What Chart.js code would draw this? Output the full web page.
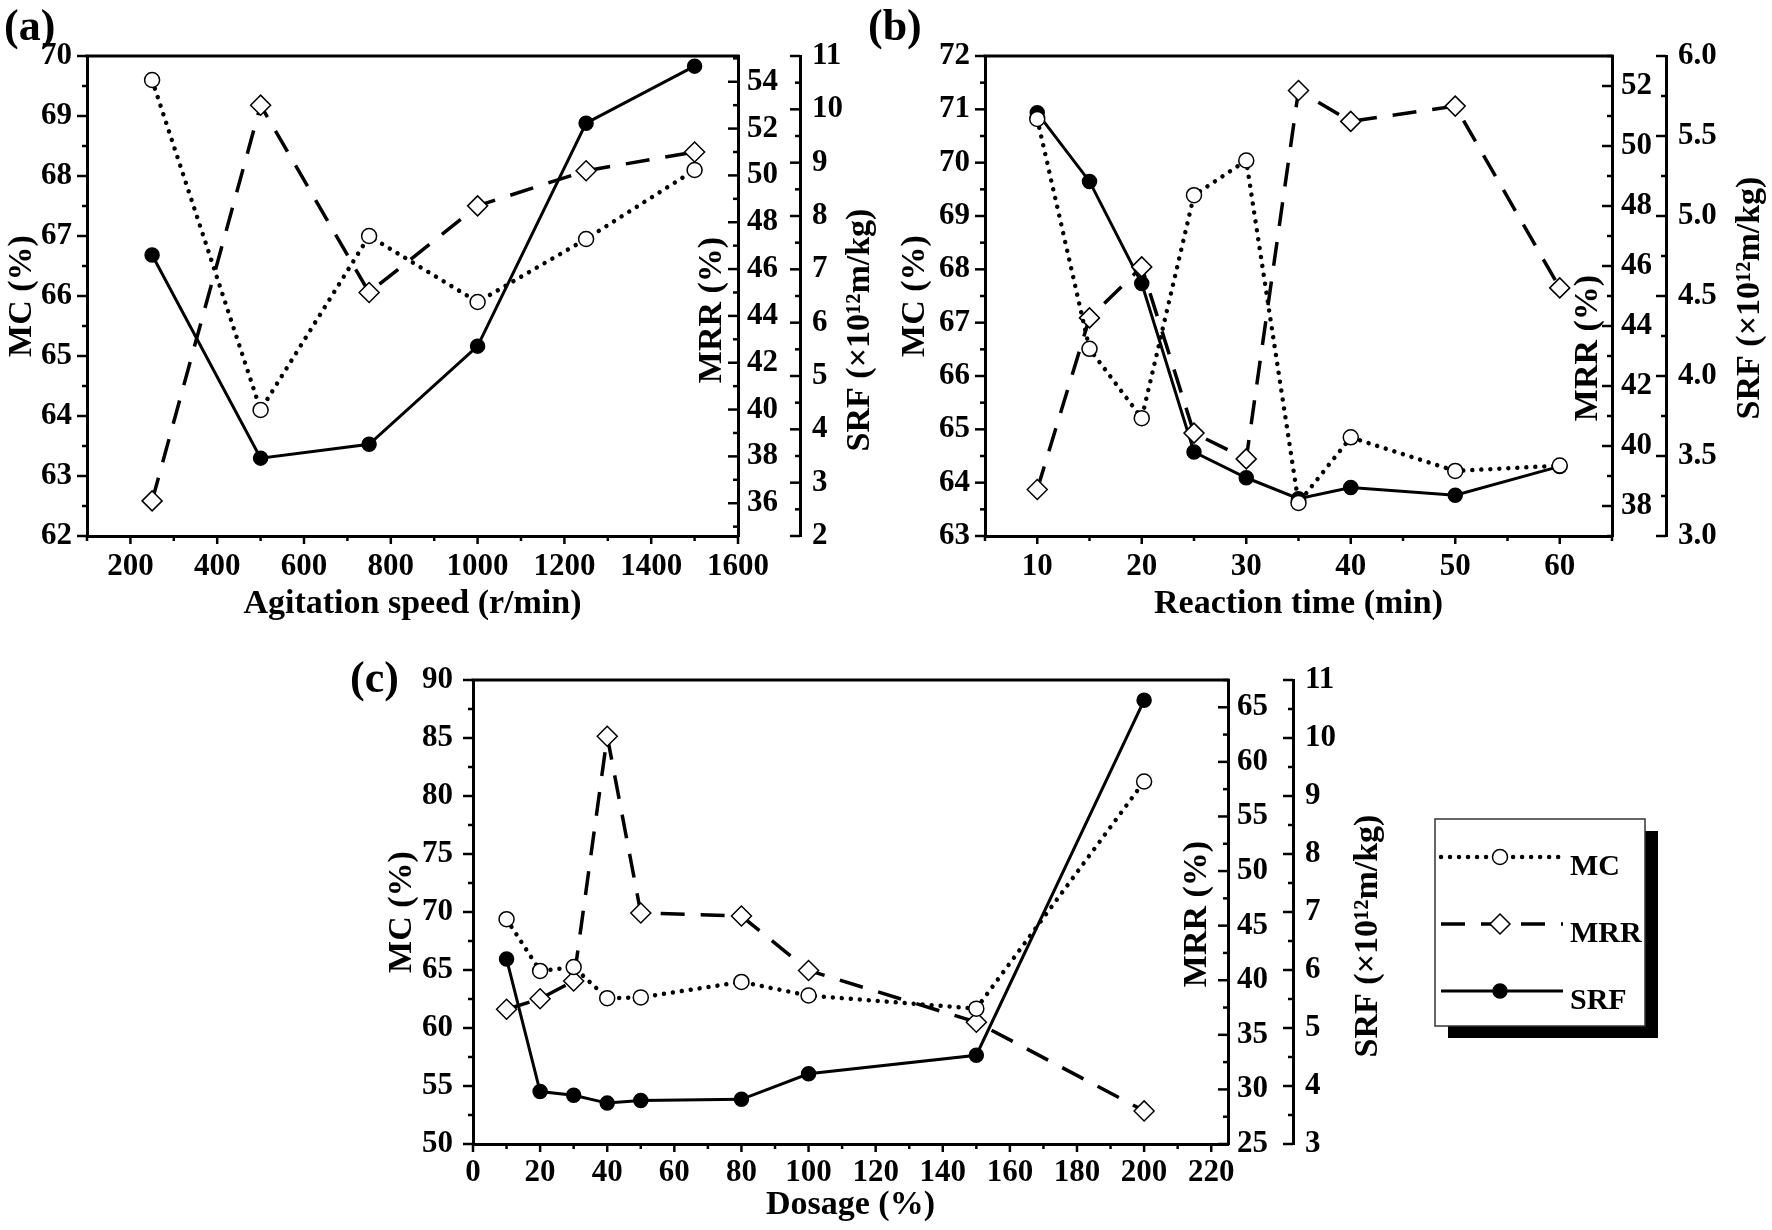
<!DOCTYPE html>
<html>
<head>
<meta charset="utf-8">
<script src="https://cdn.jsdelivr.net/npm/chart.js@4.4.1/dist/chart.umd.min.js"></script>
<style>
  html, body { margin: 0; padding: 0; background: #fff; }
  body { width: 1772px; height: 1230px; position: relative; overflow: hidden; }
  canvas { position: absolute; }
</style>
</head>
<body>
<canvas id="chartA" width="900" height="630" style="left:0;top:0"></canvas>
<canvas id="chartB" width="912" height="630" style="left:860px;top:0"></canvas>
<canvas id="chartC" width="1360" height="600" style="left:340px;top:630px"></canvas>
<script>
// (a) agitation speed
const speedA = [250, 500, 750, 1000, 1250, 1500];
const mcA = [69.6, 64.1, 67.0, 65.9, 66.95, 68.1];
const mrrA = [36.1, 53.0, 45.0, 48.7, 50.2, 51.0];
const srfA = [7.27, 3.46, 3.72, 5.56, 9.74, 10.81];

// (b) reaction time
const timeB = [10, 15, 20, 25, 30, 35, 40, 50, 60];
const mcB = [70.82, 66.51, 65.21, 69.39, 70.04, 63.62, 64.85, 64.22, 64.32];
const mrrB = [38.55, 44.27, 45.97, 40.43, 39.57, 51.85, 50.82, 51.33, 45.27];
const srfB = [5.645, 5.216, 4.578, 3.525, 3.364, 3.233, 3.303, 3.255, 3.435];

// (c) dosage
const doseC = [10, 20, 30, 40, 50, 80, 100, 150, 200];
const mcC = [69.38, 64.92, 65.25, 62.57, 62.64, 63.97, 62.8, 61.67, 81.25];
const mrrC = [37.34, 38.3, 39.93, 62.35, 46.16, 45.88, 40.89, 36.16, 28.03];
const srfC = [6.19, 3.905, 3.84, 3.705, 3.75, 3.77, 4.21, 4.53, 10.65];

const seriesNames = ['MC', 'MRR', 'SRF'];

Chart.defaults.color = '#000';
Chart.defaults.font.family = '"Liberation Serif", "Times New Roman", serif';
Chart.defaults.font.weight = 'bold';
Chart.defaults.font.size = 31;

const TITLE_FONT = 'bold 34px "Liberation Serif", serif';

// line + marker look of each series
const looks = {
    MC: { borderDash: [0.01, 9], borderCapStyle: 'round', borderWidth: 4.5,
          pointStyle: 'circle', pointRadius: 7.5, pointBackgroundColor: '#fff' },
    MRR: { borderDash: [24, 16], borderCapStyle: 'butt', borderWidth: 3.5,
           pointStyle: 'rectRot', pointRadius: 10, pointBackgroundColor: '#fff' },
    SRF: { borderDash: [], borderCapStyle: 'butt', borderWidth: 3,
           pointStyle: 'circle', pointRadius: 7, pointBackgroundColor: '#000' }
};

function series(name, xs, ys, axis) {
    return Object.assign({
        label: name,
        data: xs.map((x, i) => ({ x: x, y: ys[i] })),
        yAxisID: axis,
        borderColor: '#000',
        pointBorderColor: '#000',
        pointBorderWidth: 1.5,
        tension: 0,
        clip: false
    }, looks[name]);
}

// tick values that are whole multiples of the step inside [min, max]
function stepValues(min, max, step) {
    const out = [];
    for (let k = Math.ceil(min / step - 1e-9); k * step <= max + 1e-9; k++) {
        out.push(Math.round(k * step * 1000) / 1000);
    }
    return out;
}

function drawMarker(ctx, style, r, fill, x, y) {
    ctx.beginPath();
    if (style === 'rectRot') {
        ctx.moveTo(x - r, y); ctx.lineTo(x, y - r); ctx.lineTo(x + r, y); ctx.lineTo(x, y + r);
        ctx.closePath();
    } else {
        ctx.arc(x, y, r, 0, Math.PI * 2);
    }
    ctx.setLineDash([]);
    ctx.fillStyle = fill;
    ctx.fill();
    ctx.lineWidth = 1.5;
    ctx.strokeStyle = '#000';
    ctx.stroke();
}

// frame top, minor/major ticks, right-hand titles, panel letter, legend
const axisDeco = {
    id: 'axisDeco',
    beforeDatasetsDraw(chart, args, o) {
        const { ctx, chartArea: ca } = chart;
        ctx.save();
        ctx.strokeStyle = '#000';
        ctx.lineWidth = 3;
        ctx.beginPath();
        ctx.moveTo(ca.left - 1.5, ca.top);
        ctx.lineTo(ca.right + 1.5, ca.top);
        ctx.stroke();

        ctx.lineWidth = 2.5;
        ['x', 'mc', 'mrr', 'srf'].forEach(id => {
            const s = chart.scales[id];
            const majors = s.ticks.map(t => t.value);
            const marks = majors.map(v => [v, true]);
            stepValues(s.min, s.max, o.minor[id]).forEach(v => {
                if (!majors.some(m => Math.abs(m - v) < o.minor[id] / 10)) marks.push([v, false]);
            });
            marks.forEach(([v, major]) => {
                const p = s.getPixelForValue(v);
                ctx.beginPath();
                if (id === 'x') {
                    ctx.moveTo(p, s.top);
                    ctx.lineTo(p, s.top + (major ? 8 : 5));
                } else {
                    const ax = id === 'mc' ? s.right : s.left;
                    ctx.moveTo(ax - (major ? 10 : 5), p);
                    ctx.lineTo(ax, p);
                }
                ctx.stroke();
            });
        });

        ctx.font = TITLE_FONT;
        ctx.fillStyle = '#000';
        ctx.textAlign = 'center';
        ctx.textBaseline = 'middle';
        const midY = (ca.top + ca.bottom) / 2;
        o.rightTitles.forEach(t => {
            const s = chart.scales[t.axis];
            ctx.save();
            ctx.translate(s.left + t.dx, midY + t.dy);
            ctx.rotate(-Math.PI / 2);
            ctx.fillText(t.text, 0, 0);
            ctx.restore();
        });

        ctx.font = 'bold 44px "Liberation Serif", serif';
        ctx.textAlign = 'left';
        ctx.textBaseline = 'alphabetic';
        ctx.fillText(o.panel.text, o.panel.x, o.panel.y);
        ctx.restore();
    },
    afterDraw(chart, args, o) {
        if (!o.legend) return;
        const L = o.legend;
        const ctx = chart.ctx;
        ctx.save();
        ctx.fillStyle = '#000';
        ctx.fillRect(L.x + 13, L.y + 12, L.w, L.h);
        ctx.fillStyle = '#fff';
        ctx.fillRect(L.x, L.y, L.w, L.h);
        ctx.strokeStyle = '#333';
        ctx.lineWidth = 1.5;
        ctx.strokeRect(L.x, L.y, L.w, L.h);
        chart.data.datasets.forEach((ds, i) => {
            const y = L.y + L.rows[i];
            ctx.beginPath();
            ctx.strokeStyle = '#000';
            ctx.setLineDash(ds.borderDash);
            ctx.lineCap = ds.borderCapStyle;
            ctx.lineWidth = ds.borderWidth;
            ctx.moveTo(L.x + 6, y);
            ctx.lineTo(L.x + 128, y);
            ctx.stroke();
            ctx.lineCap = 'butt';
            drawMarker(ctx, ds.pointStyle, ds.pointRadius, ds.pointBackgroundColor, L.x + 65, y);
            ctx.fillStyle = '#000';
            ctx.font = 'bold 30px "Liberation Serif", serif';
            ctx.textAlign = 'left';
            ctx.textBaseline = 'alphabetic';
            ctx.fillText(ds.label, L.x + 135, y + 18);
        });
        ctx.restore();
    }
};

function yAxis(pos, min, max, step, pad, width, fmt) {
    return {
        type: 'linear', position: pos, min: min, max: max,
        grid: { display: false, drawTicks: false },
        border: { display: true, width: 3, color: '#000' },
        ticks: { stepSize: step, includeBounds: false, autoSkip: false, padding: pad,
                 callback: fmt || (v => String(v)) },
        afterBuildTicks: s => { s.ticks = stepValues(min, max, step).map(v => ({ value: v })); },
        afterFit: s => { s.width = width; }
    };
}

function makePanel(id, p) {
    const mc = yAxis('left', p.mc[0], p.mc[1], p.mc[2], p.mcPad, p.mcWidth);
    mc.title = { display: true, text: 'MC (%)', font: { size: 34, weight: 'bold' },
                 padding: { top: p.mcTitlePad, bottom: 0 } };
    return new Chart(document.getElementById(id), {
        type: 'line',
        data: {
            datasets: [
                series(seriesNames[0], p.xs, p.mcv, 'mc'),
                series(seriesNames[1], p.xs, p.mrrv, 'mrr'),
                series(seriesNames[2], p.xs, p.srfv, 'srf')
            ]
        },
        options: {
            responsive: false,
            animation: false,
            devicePixelRatio: 1,
            events: [],
            layout: { padding: { top: p.top, left: 0, right: p.right, bottom: 0 } },
            scales: {
                x: {
                    type: 'linear', position: 'bottom', min: p.x[0], max: p.x[1],
                    grid: { display: false, drawTicks: false },
                    border: { display: true, width: 3, color: '#000' },
                    ticks: { stepSize: p.x[2], includeBounds: false, autoSkip: false,
                             maxRotation: 0, minRotation: 0, padding: p.xPad,
                             callback: v => String(v) },
                    afterBuildTicks: s => {
                        s.ticks = stepValues(p.x[0], p.x[1], p.x[2]).map(v => ({ value: v }));
                    },
                    title: { display: true, text: p.xTitle, font: { size: 34, weight: 'bold' },
                             padding: { top: 0, bottom: p.xTitlePad } },
                    afterFit: s => { s.height = p.xHeight; }
                },
                mc: mc,
                mrr: yAxis('right', p.mrr[0], p.mrr[1], p.mrr[2], 9, p.mrrWidth),
                srf: yAxis('right', p.srf[0], p.srf[1], p.srf[2], 12, p.srfWidth, p.srfFmt)
            },
            plugins: {
                legend: { display: false },
                tooltip: { enabled: false },
                axisDeco: {
                    minor: p.minor,
                    panel: p.panel,
                    legend: p.legend || null,
                    rightTitles: [
                        { axis: 'mrr', text: 'MRR (%)', dx: p.mrrT[0], dy: p.mrrT[1] },
                        { axis: 'srf', text: 'SRF (×10¹²m/kg)', dx: p.srfT[0], dy: p.srfT[1] }
                    ]
                }
            }
        },
        plugins: [axisDeco]
    });
}

// CHART (a)
makePanel('chartA', {
    xs: speedA, mcv: mcA, mrrv: mrrA, srfv: srfA,
    x: [100, 1600, 200], xTitle: 'Agitation speed (r/min)',
    mc: [62, 70, 1], mrr: [34.6, 55.1, 2], srf: [2, 11, 1],
    minor: { x: 100, mc: 0.5, mrr: 1, srf: 0.5 },
    top: 56, right: 0, xHeight: 94, xPad: 12, xTitlePad: 5,
    mcWidth: 87, mcPad: 15, mcTitlePad: 2, mrrWidth: 62, srfWidth: 100,
    mrrT: [-26, 14], srfT: [60, 34],
    panel: { text: '(a)', x: 4, y: 40 }
});

// CHART (b)
makePanel('chartB', {
    xs: timeB, mcv: mcB, mrrv: mrrB, srfv: srfB,
    x: [5, 65, 10], xTitle: 'Reaction time (min)',
    mc: [63, 72, 1], mrr: [37, 53, 2], srf: [3, 6, 0.5],
    srfFmt: v => v.toFixed(1),
    minor: { x: 5, mc: 0.5, mrr: 1, srf: 0.25 },
    top: 56, right: 0, xHeight: 94, xPad: 12, xTitlePad: 5,
    mcWidth: 125, mcPad: 15, mcTitlePad: 35, mrrWidth: 54, srfWidth: 106,
    mrrT: [-24, 52], srfT: [84, 2],
    panel: { text: '(b)', x: 8, y: 40 }
});

// CHART (c)
makePanel('chartC', {
    xs: doseC, mcv: mcC, mrrv: mrrC, srfv: srfC,
    x: [0, 225, 20], xTitle: 'Dosage (%)',
    mc: [50, 90, 5], mrr: [25, 67.5, 5], srf: [3, 11, 1],
    minor: { x: 10, mc: 2.5, mrr: 2.5, srf: 0.5 },
    top: 50, right: 300, xHeight: 86, xPad: 10, xTitlePad: 4,
    mcWidth: 133, mcPad: 20, mcTitlePad: 42, mrrWidth: 65, srfWidth: 107,
    mrrT: [-31, 2], srfT: [75, 24],
    panel: { text: '(c)', x: 10, y: 62 },
    legend: { x: 1095, y: 189, w: 210, h: 207, rows: [38, 105, 172] }
});
</script>
</body>
</html>
